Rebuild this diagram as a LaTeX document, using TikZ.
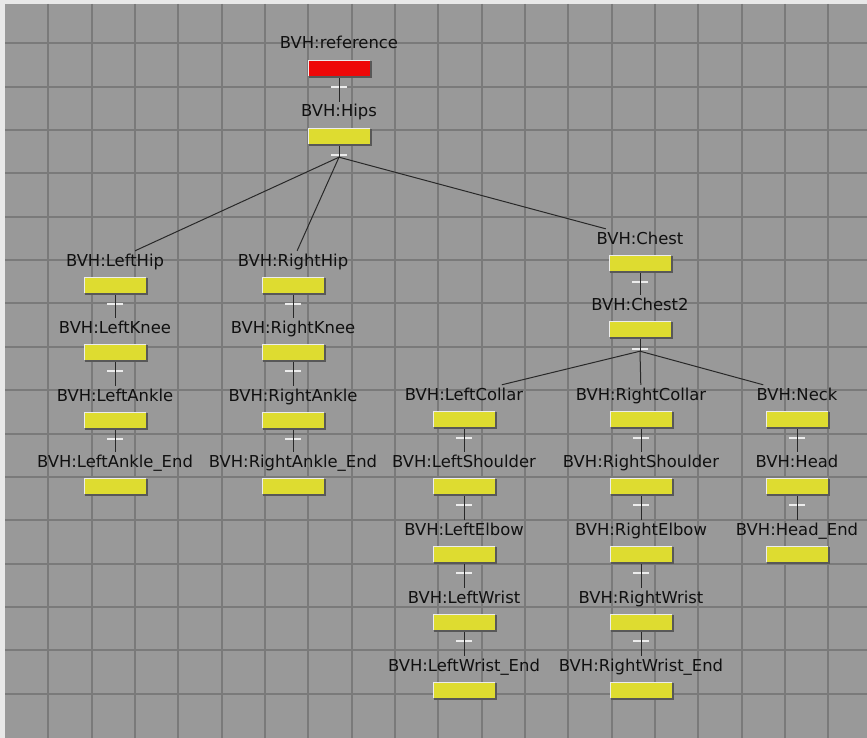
\documentclass[tikz,border=0pt]{standalone}
\usepackage{fontspec}
\setmainfont{DejaVu Sans}
\pgfdeclarelayer{back}
\pgfdeclarelayer{wires}
\pgfsetlayers{back,wires,main}
\definecolor{bggrey}{RGB}{153,153,153}
\definecolor{gridgrey}{RGB}{122,122,122}
\definecolor{edgewhite}{RGB}{232,232,232}
\definecolor{boneyellow}{RGB}{222,220,48}
\definecolor{bonered}{RGB}{238,8,8}
\definecolor{wiredark}{RGB}{40,40,40}
\definecolor{hilite}{RGB}{236,236,236}
\definecolor{shade}{RGB}{88,88,88}
\tikzset{
  bone/.style={rectangle, minimum width=62pt, minimum height=16pt, inner sep=0pt, draw=none},
  lbl/.style={font=\fontsize{16.4}{18}\selectfont, inner xsep=1pt, inner ysep=0pt,
              text height=15pt, text depth=3pt, anchor=base, text={rgb,255:red,16;green,16;blue,16}},
  wire/.style={draw=wiredark, line width=1pt},
  tickmark/.style={draw=hilite, line width=2pt},
  gridline/.style={draw=gridgrey, line width=2pt},
  hiedge/.style={draw=hilite, line width=1pt},
  shedge/.style={draw=shade, line width=2pt},
}
\newcommand\bvhnode[5]{%
  \node[bone, fill=#5] (#1) at (#2,#3+8) {};
  \draw[hiedge] ([shift={(0.5,-0.5)}]#1.south west) |- ([shift={(-0.5,0.5)}]#1.north east);
  \draw[shedge] ([shift={(1,1)}]#1.south west) -| ([shift={(1,1)}]#1.north east);
  \node[lbl] (#1L) at (#2,#3-11) {#4};
}
\newcommand\vlink[2]{%
  \draw[tickmark] ([shift={(-8,11)}]#1.south) -- ([shift={(8,11)}]#1.south);
  \draw[wire] (#1.south) -- (#2L);
}
\begin{document}
\begin{tikzpicture}[x=1pt,y=-1pt]
\useasboundingbox (0,0) rectangle (867,738);
\begin{pgfonlayer}{back}
  \fill[edgewhite] (0,0) rectangle (867,738);
  \fill[bggrey] (5,4) rectangle (867,738);
  \foreach \k in {1,...,19} { \draw[gridline] (5+43.33*\k,4) -- (5+43.33*\k,738); }
  \foreach \k in {1,...,16} { \draw[gridline] (5,43.35*\k) -- (867,43.35*\k); }
\end{pgfonlayer}

\bvhnode{ref}{339}{60}{BVH:reference}{bonered}
\bvhnode{hips}{339}{128}{BVH:Hips}{boneyellow}

\bvhnode{lhip}{115}{277}{BVH:LeftHip}{boneyellow}
\bvhnode{lknee}{115}{344}{BVH:LeftKnee}{boneyellow}
\bvhnode{lankle}{115}{412}{BVH:LeftAnkle}{boneyellow}
\bvhnode{lanklee}{115}{478}{BVH:LeftAnkle\_End}{boneyellow}

\bvhnode{rhip}{293}{277}{BVH:RightHip}{boneyellow}
\bvhnode{rknee}{293}{344}{BVH:RightKnee}{boneyellow}
\bvhnode{rankle}{293}{412}{BVH:RightAnkle}{boneyellow}
\bvhnode{ranklee}{293}{478}{BVH:RightAnkle\_End}{boneyellow}

\bvhnode{chest}{640}{255}{BVH:Chest}{boneyellow}
\bvhnode{chesttwo}{640}{321}{BVH:Chest2}{boneyellow}

\bvhnode{lcol}{464}{411}{BVH:LeftCollar}{boneyellow}
\bvhnode{lsho}{464}{478}{BVH:LeftShoulder}{boneyellow}
\bvhnode{lelb}{464}{546}{BVH:LeftElbow}{boneyellow}
\bvhnode{lwri}{464}{614}{BVH:LeftWrist}{boneyellow}
\bvhnode{lwrie}{464}{682}{BVH:LeftWrist\_End}{boneyellow}

\bvhnode{rcol}{641}{411}{BVH:RightCollar}{boneyellow}
\bvhnode{rsho}{641}{478}{BVH:RightShoulder}{boneyellow}
\bvhnode{relb}{641}{546}{BVH:RightElbow}{boneyellow}
\bvhnode{rwri}{641}{614}{BVH:RightWrist}{boneyellow}
\bvhnode{rwrie}{641}{682}{BVH:RightWrist\_End}{boneyellow}

\bvhnode{neck}{797}{411}{BVH:Neck}{boneyellow}
\bvhnode{head}{797}{478}{BVH:Head}{boneyellow}
\bvhnode{heade}{797}{546}{BVH:Head\_End}{boneyellow}

\coordinate (hipsJ) at ([shift={(0,13)}]hips.south);
\coordinate (chesttwoJ) at ([shift={(0,14)}]chesttwo.south);

\begin{pgfonlayer}{wires}
  \vlink{ref}{hips}
  \draw[tickmark] ([shift={(-8,11)}]hips.south) -- ([shift={(8,11)}]hips.south);
  \draw[wire] (hips.south) -- (hipsJ);
  \draw[wire] (hipsJ) -- (lhipL);
  \draw[wire] (hipsJ) -- (rhipL);
  \draw[wire] (hipsJ) -- (chestL);
  \vlink{lhip}{lknee}
  \vlink{lknee}{lankle}
  \vlink{lankle}{lanklee}
  \vlink{rhip}{rknee}
  \vlink{rknee}{rankle}
  \vlink{rankle}{ranklee}
  \vlink{chest}{chesttwo}
  \draw[tickmark] ([shift={(-8,12)}]chesttwo.south) -- ([shift={(8,12)}]chesttwo.south);
  \draw[wire] (chesttwo.south) -- (chesttwoJ);
  \draw[wire] (chesttwoJ) -- (lcolL);
  \draw[wire] (chesttwoJ) -- (rcolL);
  \draw[wire] (chesttwoJ) -- (neckL);
  \vlink{lcol}{lsho}
  \vlink{lsho}{lelb}
  \vlink{lelb}{lwri}
  \vlink{lwri}{lwrie}
  \vlink{rcol}{rsho}
  \vlink{rsho}{relb}
  \vlink{relb}{rwri}
  \vlink{rwri}{rwrie}
  \vlink{neck}{head}
  \vlink{head}{heade}
\end{pgfonlayer}
\end{tikzpicture}
\end{document}
